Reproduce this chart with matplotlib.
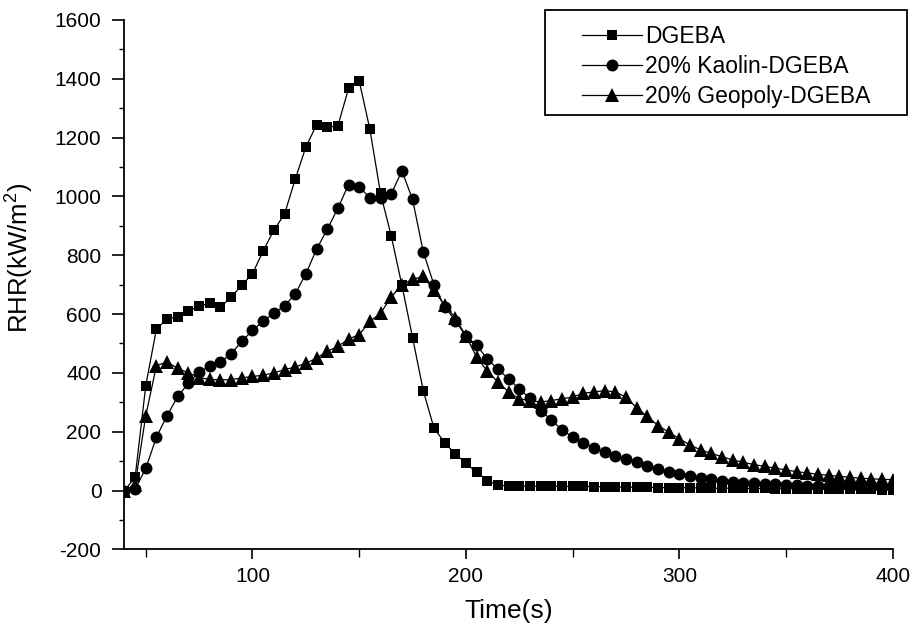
import matplotlib
matplotlib.use("Agg")
import matplotlib.pyplot as plt
from matplotlib.patches import Rectangle
from matplotlib.ticker import MultipleLocator

plt.rcParams['font.family'] = ['Liberation Sans', 'DejaVu Sans']
plt.rcParams['mathtext.fontset'] = 'custom'
plt.rcParams['mathtext.rm'] = 'Liberation Sans'
plt.rcParams['mathtext.it'] = 'Liberation Sans:italic'
plt.rcParams['axes.unicode_minus'] = False

# time axis, one reading every 5 s
time_s = [40, 45, 50, 55, 60, 65, 70, 75, 80, 85, 90, 95, 100, 105, 110, 115, 120,
          125, 130, 135, 140, 145, 150, 155, 160, 165, 170, 175, 180, 185, 190, 195,
          200, 205, 210, 215, 220, 225, 230, 235, 240, 245, 250, 255, 260, 265, 270,
          275, 280, 285, 290, 295, 300, 305, 310, 315, 320, 325, 330, 335, 340, 345,
          350, 355, 360, 365, 370, 375, 380, 385, 390, 395, 400]

rhr_dgeba = [0, 45, 357, 550, 583, 590, 612, 626, 638, 624, 658, 698, 737, 815, 885,
             940, 1058, 1168, 1243, 1235, 1240, 1367, 1393, 1228, 1010, 866, 698, 520,
             340, 213, 163, 125, 92, 62, 34, 18, 16, 16, 15, 15, 15, 14, 14, 14, 13,
             13, 12, 12, 11, 11, 10, 10, 10, 9, 9, 8, 8, 8, 7, 7, 7, 6, 6, 6, 5, 5, 5,
             5, 4, 4, 4, 3, 3]

rhr_kaolin = [0, 5, 75, 182, 255, 320, 365, 403, 422, 437, 465, 507, 545, 576, 603,
              628, 668, 737, 820, 888, 960, 1040, 1033, 995, 993, 1008, 1087, 990, 812,
              700, 625, 578, 525, 494, 448, 412, 380, 345, 314, 272, 240, 206, 182, 162,
              145, 130, 119, 108, 97, 85, 74, 64, 56, 49, 43, 38, 34, 30, 27, 25, 23,
              21, 19, 18, 17, 16, 15, 14, 13, 12, 12, 11, 11]

rhr_geopoly = [0, 20, 255, 425, 437, 415, 400, 384, 378, 376, 377, 383, 388, 392, 400,
               411, 420, 433, 450, 473, 490, 515, 530, 575, 603, 658, 700, 718, 728, 681,
               630, 588, 525, 454, 406, 369, 335, 312, 306, 301, 306, 312, 318, 331, 335,
               340, 335, 318, 281, 252, 221, 199, 176, 155, 138, 126, 115, 104, 96, 88,
               82, 76, 70, 64, 60, 55, 52, 48, 45, 42, 40, 38, 37]

labels = ['DGEBA', '20% Kaolin-DGEBA', '20% Geopoly-DGEBA']

fig = plt.figure(figsize=(9.11, 6.30), dpi=100)
ax = fig.add_axes([0.1366, 0.128, 0.980 - 0.1366, 0.9683 - 0.128])

l3, = ax.plot(time_s, rhr_geopoly, color='black', lw=0.9, marker='^', ms=9.5,
              markeredgewidth=0, label=labels[2])
l2, = ax.plot(time_s, rhr_kaolin, color='black', lw=0.9, marker='o', ms=8.6,
              markeredgewidth=0, label=labels[1])
l1, = ax.plot(time_s, rhr_dgeba, color='black', lw=0.9, marker='s', ms=7.8,
              markeredgewidth=0, label=labels[0])

ax.set_xlim(40, 400)
ax.set_ylim(-200, 1600)
ax.xaxis.set_major_locator(MultipleLocator(100))
ax.xaxis.set_minor_locator(MultipleLocator(50))
ax.yaxis.set_major_locator(MultipleLocator(200))
ax.yaxis.set_minor_locator(MultipleLocator(100))

for s in ['top', 'right']:
    ax.spines[s].set_visible(False)
for s in ['left', 'bottom']:
    ax.spines[s].set_linewidth(1.3)

ax.tick_params(axis='x', which='major', direction='out', length=7, width=1.2,
               labelsize=15, pad=6)
ax.tick_params(axis='x', which='minor', direction='out', length=6, width=1.0)
ax.tick_params(axis='y', which='major', direction='out', length=8.6, width=1.2,
               labelsize=15, pad=8)
ax.tick_params(axis='y', which='minor', direction='out', length=3.6, width=1.0)

ax.set_xlabel('Time(s)', fontsize=19, labelpad=9)
ax.set_ylabel('RHR(kW/m$^2$)', fontsize=18.5)
ax.yaxis.set_label_coords(-0.115, 0.55)

leg = fig.legend(handles=[l1, l2, l3], labels=labels, loc='upper left',
                 bbox_to_anchor=(582 / 911, 1 - 25 / 630), frameon=False,
                 fontsize=16.5, handlelength=2.62, handletextpad=0.15,
                 labelspacing=0.3, borderpad=0, borderaxespad=0)

fig.patches.append(Rectangle((545 / 911, 1 - 115 / 630), (907 - 545) / 911, 105 / 630,
                             transform=fig.transFigure, fill=False,
                             edgecolor='black', linewidth=1.3))

fig.savefig('out.png', dpi=100)
